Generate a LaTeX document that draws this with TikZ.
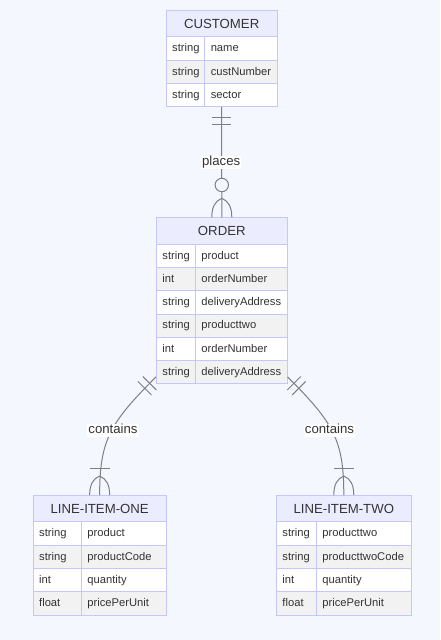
\documentclass[tikz,border=0pt]{standalone}
\usepackage{fontspec}
\setmainfont{Liberation Sans}
\usetikzlibrary{calc}
\definecolor{bgc}{HTML}{F4F7FE}
\definecolor{headc}{HTML}{ECECFF}
\definecolor{bordc}{HTML}{C6C6FA}
\definecolor{rowa}{HTML}{FFFFFF}
\definecolor{rowb}{HTML}{F2F2F2}
\definecolor{linec}{HTML}{7F7F7F}
\definecolor{txtc}{HTML}{333333}
\tikzset{
  cellbox/.style={draw=bordc, line width=0.9pt, anchor=north west, inner xsep=6pt, inner ysep=0pt,
    minimum height=23.3pt, align=left, font=\fontsize{11.2}{13}\selectfont, text=txtc,
    text height=9pt, text depth=2.4pt},
  headbox/.style={draw=bordc, fill=headc, line width=0.9pt, anchor=north west, inner sep=0pt,
    minimum height=26.3pt, font=\fontsize{13.2}{15}\selectfont, text=txtc,
    text height=9.5pt, text depth=0pt},
  entframe/.style={draw=bordc, line width=0.9pt, anchor=north west, inner sep=0pt},
  conn/.style={draw=linec, line width=1pt},
  lbl/.style={fill=white, text=txtc, font=\fontsize{13.2}{15}\selectfont, inner xsep=1pt,
    inner ysep=0.3pt, text height=9.6pt, text depth=2.8pt},
}
\newcommand\ercell[6]{\pgfmathsetmacro\ercw{#4-12}\node[cellbox, fill=#5, text width=\ercw pt] (#1) at (#2,#3) {#6};}
\newcommand\errow[8]{%
  \ercell{#1t}{#2}{#3}{#4}{#6}{#7}%
  \pgfmathsetmacro\erx{#2+#4}%
  \ercell{#1n}{\erx}{#3}{#5}{#6}{#8}}
\newcommand\erhead[5]{\node[headbox, minimum width=#4pt] (#1) at (#2,#3) {#5};}
\newcommand\crowfoot[1]{%
  \draw[conn] ($(#1)+(0,-19)$) .. controls +(-6.7,2.7) and +(0,-10.2) .. ($(#1)+(-10,0)$);
  \draw[conn] ($(#1)+(0,-19)$) .. controls +(6.7,2.7) and +(0,-10.2) .. ($(#1)+(10,0)$);}
\begin{document}
\begin{tikzpicture}[x=1pt,y=-1pt]
\useasboundingbox (0,0) rectangle (440,640);
\fill[bgc] (0,0) rectangle (440,640);

% CUSTOMER
\erhead{cH}{165.7}{10}{111}{CUSTOMER}
\errow{c1}{165.7}{36.3}{38.6}{72.4}{rowa}{string}{name}
\errow{c2}{165.7}{59.6}{38.6}{72.4}{rowb}{string}{custNumber}
\errow{c3}{165.7}{82.9}{38.6}{72.4}{rowa}{string}{sector}
\node[entframe, minimum width=111pt, minimum height=96.2pt] (customer) at (165.7,10) {};

% ORDER
\erhead{oH}{156}{217.3}{130.7}{ORDER}
\errow{o1}{156}{243.6}{39}{91.7}{rowa}{string}{product}
\errow{o2}{156}{266.9}{39}{91.7}{rowb}{int}{orderNumber}
\errow{o3}{156}{290.2}{39}{91.7}{rowa}{string}{deliveryAddress}
\errow{o4}{156}{313.5}{39}{91.7}{rowb}{string}{producttwo}
\errow{o5}{156}{336.8}{39}{91.7}{rowa}{int}{orderNumber}
\errow{o6}{156}{360.1}{39}{91.7}{rowb}{string}{deliveryAddress}
\node[entframe, minimum width=130.7pt, minimum height=166.1pt] (order) at (156,217.3) {};

% LINE-ITEM-ONE
\erhead{aH}{32.7}{495}{133}{LINE-ITEM-ONE}
\errow{a1}{32.7}{521.3}{48.3}{84.7}{rowa}{string}{product}
\errow{a2}{32.7}{544.6}{48.3}{84.7}{rowb}{string}{productCode}
\errow{a3}{32.7}{567.9}{48.3}{84.7}{rowa}{int}{quantity}
\errow{a4}{32.7}{591.2}{48.3}{84.7}{rowb}{float}{pricePerUnit}
\node[entframe, minimum width=133pt, minimum height=119.5pt] (lio) at (32.7,495) {};

% LINE-ITEM-TWO
\erhead{bH}{276}{495}{134.7}{LINE-ITEM-TWO}
\errow{b1}{276}{521.3}{40}{94.7}{rowa}{string}{producttwo}
\errow{b2}{276}{544.6}{40}{94.7}{rowb}{string}{producttwoCode}
\errow{b3}{276}{567.9}{40}{94.7}{rowa}{int}{quantity}
\errow{b4}{276}{591.2}{40}{94.7}{rowb}{float}{pricePerUnit}
\node[entframe, minimum width=134.7pt, minimum height=119.5pt] (lit) at (276,495) {};

% CUSTOMER -> ORDER
\draw[conn] (customer.south) -- (order.north);
\draw[conn] ($(customer.south)+(-9.5,10.4)$) -- ++(19,0);
\draw[conn] ($(customer.south)+(-9.5,17.7)$) -- ++(19,0);
\node[circle, draw=linec, line width=1pt, fill=bgc, minimum size=13.4pt, inner sep=0pt] (zc) at ($(order.north)+(0,-32.3)$) {};
\crowfoot{order.north}
\node[lbl] (places) at (221.2,162.5) {places};

% ORDER -> LINE-ITEM-ONE
\coordinate (lS) at ($(order.south west)+(0,-7.4)$);
\coordinate (lC1) at ($(lS)+(-46,46)$);
\draw[conn] (lS) .. controls (lC1) and ($(lio.north)+(0,-55)$) .. (lio.north);
\coordinate (lb1) at ($(lS)!9pt!(lC1)$);
\coordinate (lb2) at ($(lS)!16pt!(lC1)$);
\draw[conn] ($(lb1)!9.5pt!90:(lC1)$) -- ($(lb1)!9.5pt!-90:(lC1)$);
\draw[conn] ($(lb2)!9.5pt!90:(lC1)$) -- ($(lb2)!9.5pt!-90:(lC1)$);
\draw[conn] ($(lio.north)+(-10,-26.3)$) -- ++(20,0);
\crowfoot{lio.north}
\node[lbl] (cont1) at (113,430) {contains};

% ORDER -> LINE-ITEM-TWO
\coordinate (rS) at ($(order.south east)+(0,-7.4)$);
\coordinate (rC1) at ($(rS)+(46,46)$);
\draw[conn] (rS) .. controls (rC1) and ($(lit.north)+(0,-55)$) .. (lit.north);
\coordinate (rb1) at ($(rS)!9pt!(rC1)$);
\coordinate (rb2) at ($(rS)!16pt!(rC1)$);
\draw[conn] ($(rb1)!9.5pt!90:(rC1)$) -- ($(rb1)!9.5pt!-90:(rC1)$);
\draw[conn] ($(rb2)!9.5pt!90:(rC1)$) -- ($(rb2)!9.5pt!-90:(rC1)$);
\draw[conn] ($(lit.north)+(-10,-26.3)$) -- ++(20,0);
\crowfoot{lit.north}
\node[lbl] (cont2) at (329.5,430) {contains};
\end{tikzpicture}
\end{document}
